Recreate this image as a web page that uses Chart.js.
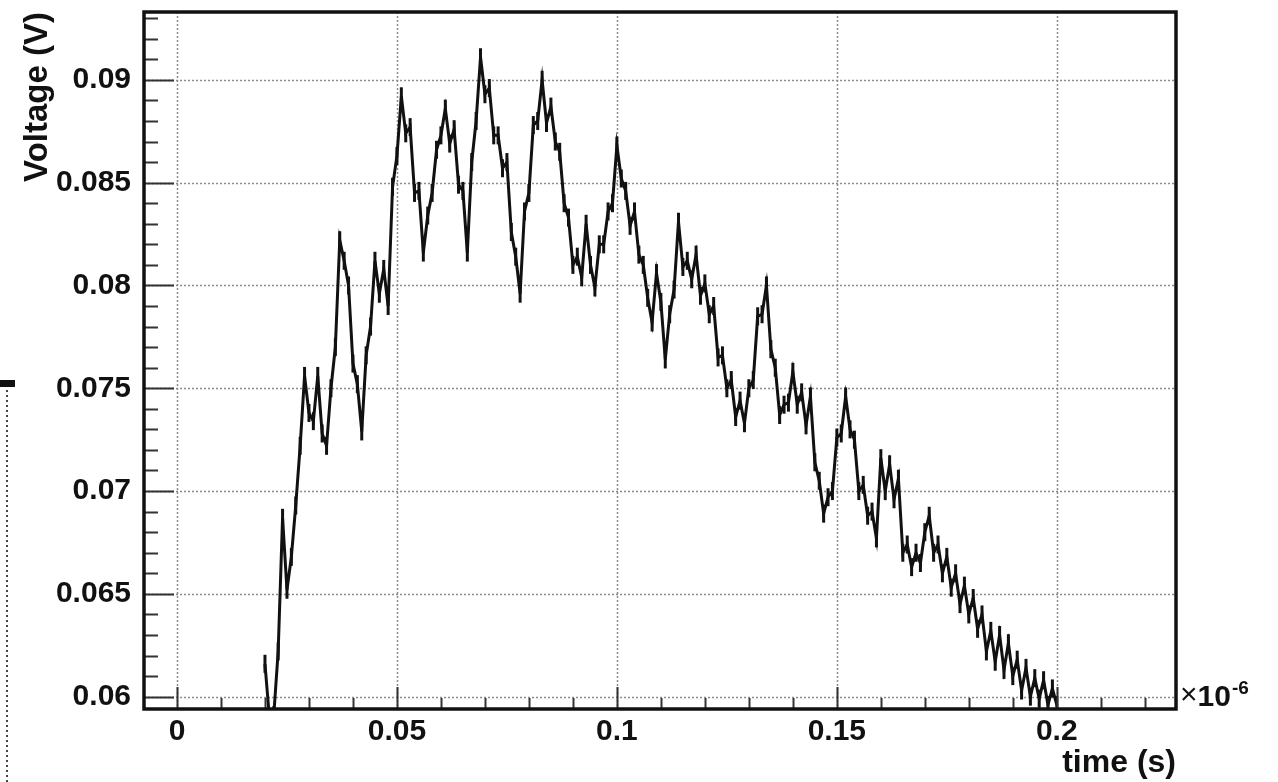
<!DOCTYPE html>
<html>
<head>
<meta charset="utf-8">
<title>Voltage vs time</title>
<script src="https://cdn.jsdelivr.net/npm/chart.js@4.4.1/dist/chart.umd.min.js"></script>
<style>
  html, body { margin: 0; padding: 0; background: #fff; }
  canvas { display: block; }
</style>
</head>
<body>
<canvas id="voltage_chart" width="1278" height="782"></canvas>
<script>
// sample times, axis unit is 1e-6 s
const timeValues = [
  0.020, 0.021, 0.022, 0.023, 0.024, 0.025, 0.026, 0.027, 0.028, 0.029,
  0.030, 0.031, 0.032, 0.033, 0.034, 0.035, 0.036, 0.037, 0.038, 0.039,
  0.040, 0.041, 0.042, 0.043, 0.044, 0.045, 0.046, 0.047, 0.048, 0.049,
  0.050, 0.051, 0.052, 0.053, 0.054, 0.055, 0.056, 0.057, 0.058, 0.059,
  0.060, 0.061, 0.062, 0.063, 0.064, 0.065, 0.066, 0.067, 0.068, 0.069,
  0.070, 0.071, 0.072, 0.073, 0.074, 0.075, 0.076, 0.077, 0.078, 0.079,
  0.080, 0.081, 0.082, 0.083, 0.084, 0.085, 0.086, 0.087, 0.088, 0.089,
  0.090, 0.091, 0.092, 0.093, 0.094, 0.095, 0.096, 0.097, 0.098, 0.099,
  0.100, 0.101, 0.102, 0.103, 0.104, 0.105, 0.106, 0.107, 0.108, 0.109,
  0.110, 0.111, 0.112, 0.113, 0.114, 0.115, 0.116, 0.117, 0.118, 0.119,
  0.120, 0.121, 0.122, 0.123, 0.124, 0.125, 0.126, 0.127, 0.128, 0.129,
  0.130, 0.131, 0.132, 0.133, 0.134, 0.135, 0.136, 0.137, 0.138, 0.139,
  0.140, 0.141, 0.142, 0.143, 0.144, 0.145, 0.146, 0.147, 0.148, 0.149,
  0.150, 0.151, 0.152, 0.153, 0.154, 0.155, 0.156, 0.157, 0.158, 0.159,
  0.160, 0.161, 0.162, 0.163, 0.164, 0.165, 0.166, 0.167, 0.168, 0.169,
  0.170, 0.171, 0.172, 0.173, 0.174, 0.175, 0.176, 0.177, 0.178, 0.179,
  0.180, 0.181, 0.182, 0.183, 0.184, 0.185, 0.186, 0.187, 0.188, 0.189,
  0.190, 0.191, 0.192, 0.193, 0.194, 0.195, 0.196, 0.197, 0.198, 0.199,
  0.200
];
// voltage (V)
const voltageValues = [
  0.0616, 0.0590, 0.0591, 0.0622, 0.0687, 0.0652, 0.0668, 0.0693, 0.0722, 0.0756,
  0.0738, 0.0734, 0.0756, 0.0728, 0.0722, 0.0750, 0.0770, 0.0822, 0.0812, 0.0800,
  0.0762, 0.0752, 0.0729, 0.0766, 0.0780, 0.0812, 0.0796, 0.0808, 0.0790, 0.0848,
  0.0863, 0.0892, 0.0874, 0.0877, 0.0845, 0.0846, 0.0816, 0.0834, 0.0845, 0.0866,
  0.0873, 0.0886, 0.0869, 0.0876, 0.0849, 0.0846, 0.0816, 0.0860, 0.0880, 0.0911,
  0.0893, 0.0896, 0.0873, 0.0873, 0.0857, 0.0860, 0.0826, 0.0814, 0.0796, 0.0836,
  0.0845, 0.0878, 0.0880, 0.0900, 0.0879, 0.0887, 0.0870, 0.0865, 0.0840, 0.0833,
  0.0810, 0.0814, 0.0804, 0.0830, 0.0810, 0.0799, 0.0820, 0.0820, 0.0836, 0.0840,
  0.0868, 0.0852, 0.0846, 0.0829, 0.0836, 0.0815, 0.0810, 0.0794, 0.0782, 0.0806,
  0.0792, 0.0764, 0.0786, 0.0798, 0.0831, 0.0809, 0.0812, 0.0803, 0.0815, 0.0795,
  0.0801, 0.0786, 0.0790, 0.0765, 0.0766, 0.0750, 0.0754, 0.0736, 0.0744, 0.0733,
  0.0750, 0.0754, 0.0785, 0.0786, 0.0800, 0.0769, 0.0760, 0.0737, 0.0742, 0.0743,
  0.0758, 0.0742, 0.0748, 0.0732, 0.0746, 0.0714, 0.0705, 0.0689, 0.0697, 0.0700,
  0.0726, 0.0728, 0.0746, 0.0730, 0.0725, 0.0700, 0.0703, 0.0688, 0.0690, 0.0677,
  0.0716, 0.0700, 0.0713, 0.0696, 0.0706, 0.0670, 0.0674, 0.0663, 0.0670, 0.0665,
  0.0680, 0.0688, 0.0670, 0.0674, 0.0660, 0.0668, 0.0653, 0.0660, 0.0645, 0.0654,
  0.0640, 0.0648, 0.0633, 0.0640, 0.0622, 0.0632, 0.0617, 0.0630, 0.0613, 0.0626,
  0.0610, 0.0618, 0.0603, 0.0614, 0.0600, 0.0609, 0.0599, 0.0608, 0.0596, 0.0604,
  0.0596
];
const xTickValues = [0, 0.05, 0.1, 0.15, 0.2];
const xTickLabels = ['0', '0.05', '0.1', '0.15', '0.2'];
const yTickValues = [0.06, 0.065, 0.07, 0.075, 0.08, 0.085, 0.09];
const yTickLabels = ['0.06', '0.065', '0.07', '0.075', '0.08', '0.085', '0.09'];
const xRange = [-0.0075, 0.2271];
const yRange = [0.0594, 0.0933];

const FONT = '"Liberation Sans", Arial, Helvetica, sans-serif';
const INK = '#111';

// ROOT-like frame: dotted grid, inner tick marks, thick box, exponent label
const rootFrame = {
  id: 'rootFrame',
  beforeDatasetsDraw(chart) {
    const ctx = chart.ctx, a = chart.chartArea;
    const x = chart.scales.x, y = chart.scales.y;
    ctx.save();
    ctx.strokeStyle = '#8c8c8c';
    ctx.lineWidth = 1.5;
    ctx.setLineDash([2, 2]);
    xTickValues.forEach(function(v) {
      const px = Math.round(x.getPixelForValue(v)) + 0.5;
      ctx.beginPath(); ctx.moveTo(px, a.top); ctx.lineTo(px, a.bottom); ctx.stroke();
    });
    yTickValues.forEach(function(v) {
      const py = Math.round(y.getPixelForValue(v)) + 0.5;
      ctx.beginPath(); ctx.moveTo(a.left, py); ctx.lineTo(a.right, py); ctx.stroke();
    });
    ctx.restore();
  },
  afterDatasetsDraw(chart) {
    const ctx = chart.ctx, a = chart.chartArea;
    const x = chart.scales.x, y = chart.scales.y;
    ctx.save();
    ctx.strokeStyle = '#333';
    ctx.lineWidth = 2;
    // y ticks every 0.001, major every 0.005
    for (let k = 60; k <= 93; k++) {
      const py = Math.round(y.getPixelForValue(k / 1000)) + 0.5;
      const len = (k % 5 === 0) ? 30 : 14;
      ctx.beginPath(); ctx.moveTo(a.left, py); ctx.lineTo(a.left + len, py); ctx.stroke();
    }
    // x ticks every 0.01, major every 0.05
    for (let k = 0; k <= 22; k++) {
      const px = Math.round(x.getPixelForValue(k / 100)) + 0.5;
      const len = (k % 5 === 0) ? 22 : 11;
      ctx.beginPath(); ctx.moveTo(px, a.bottom); ctx.lineTo(px, a.bottom - len); ctx.stroke();
    }
    ctx.strokeStyle = INK;
    ctx.lineWidth = 3.5;
    ctx.strokeRect(a.left, a.top, a.right - a.left, a.bottom - a.top);
    ctx.restore();
  },
  afterDraw(chart) {
    const ctx = chart.ctx, a = chart.chartArea;
    ctx.save();
    ctx.fillStyle = INK;
    ctx.textBaseline = 'alphabetic';
    let tx = a.right + 4;
    ctx.font = '30px ' + FONT;
    ctx.fillText('\u00d7', tx, 704);
    tx += ctx.measureText('\u00d7').width;
    ctx.font = 'bold 30px ' + FONT;
    ctx.fillText('10', tx, 706);
    tx += ctx.measureText('10').width + 1;
    ctx.font = 'bold 19px ' + FONT;
    ctx.fillText('-6', tx, 694);
    // edge of the neighbouring panel on the far left
    ctx.fillRect(0, 380, 15, 7);
    ctx.strokeStyle = '#444';
    ctx.lineWidth = 2;
    ctx.setLineDash([2, 3]);
    ctx.beginPath(); ctx.moveTo(7, 390); ctx.lineTo(7, 782); ctx.stroke();
    ctx.restore();
  }
};

const points = timeValues.map(function(t, i) { return { x: t, y: voltageValues[i] }; });

new Chart(document.getElementById('voltage_chart').getContext('2d'), {
  type: 'line',
  data: {
    datasets: [{
      label: 'Voltage',
      data: points,
      borderColor: INK,
      borderWidth: 3,
      // short vertical bars at every sample, like the noisy scope trace
      pointStyle: 'line',
      pointRotation: 90,
      pointRadius: 9,
      pointBorderWidth: 3,
      pointBorderColor: INK,
      pointBackgroundColor: INK,
      tension: 0,
      fill: false,
      clip: 0
    }]
  },
  options: {
    responsive: false,
    animation: false,
    devicePixelRatio: 1,
    layout: { padding: { left: 0, top: 11, right: 102, bottom: 0 } },
    plugins: {
      legend: { display: false },
      tooltip: { enabled: false }
    },
    scales: {
      x: {
        type: 'linear',
        min: xRange[0],
        max: xRange[1],
        afterBuildTicks: function(s) { s.ticks = xTickValues.map(function(v) { return { value: v }; }); },
        afterFit: function(s) { s.height = 73; s.paddingLeft = 0; s.paddingRight = 0; },
        grid: { display: false, drawTicks: false },
        border: { display: false },
        ticks: {
          autoSkip: false, maxRotation: 0, padding: 5, color: INK,
          font: { family: FONT, size: 30, weight: 'bold' },
          callback: function(v, i) { return xTickLabels[i]; }
        },
        title: {
          display: true, text: 'time (s)', align: 'end', color: INK,
          font: { family: FONT, size: 32, weight: 'bold' },
          padding: { top: 0, bottom: 0 }
        }
      },
      y: {
        type: 'linear',
        min: yRange[0],
        max: yRange[1],
        afterBuildTicks: function(s) { s.ticks = yTickValues.map(function(v) { return { value: v }; }); },
        afterFit: function(s) { s.width = 144; s.paddingTop = 0; s.paddingBottom = 0; },
        grid: { display: false, drawTicks: false },
        border: { display: false },
        ticks: {
          autoSkip: false, padding: 13, color: INK,
          font: { family: FONT, size: 30, weight: 'bold' },
          callback: function(v, i) { return yTickLabels[i]; }
        },
        title: {
          display: true, text: 'Voltage (V)', align: 'end', color: INK,
          font: { family: FONT, size: 33, weight: 'bold' },
          padding: { top: 18, bottom: 0 }
        }
      }
    }
  },
  plugins: [rootFrame]
});
</script>
</body>
</html>
